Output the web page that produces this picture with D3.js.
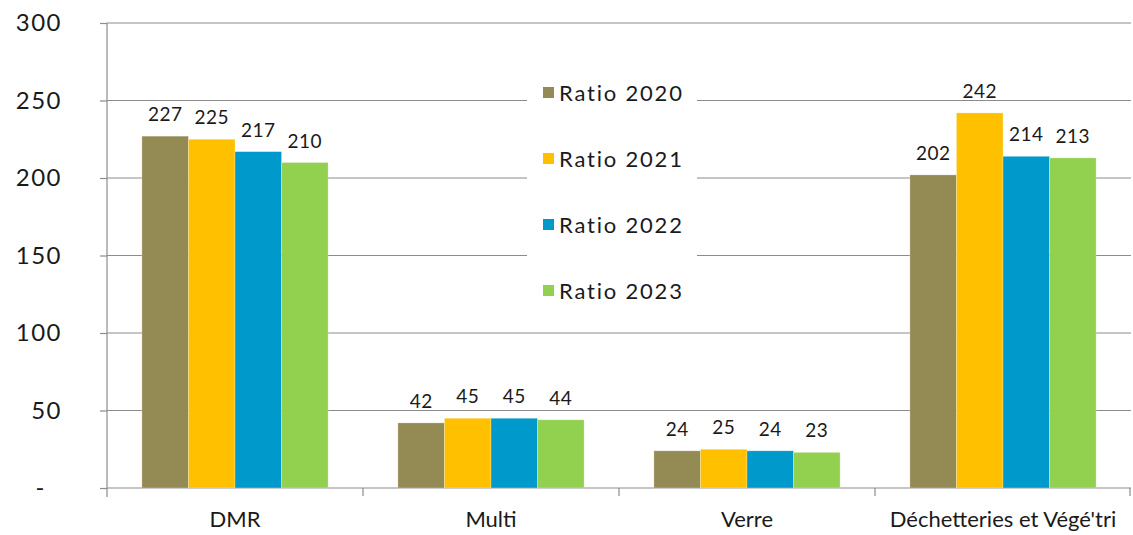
<!DOCTYPE html>
<html>
<head>
<meta charset="utf-8">
<script src="https://cdn.jsdelivr.net/npm/d3@7"></script>
<style>
  body { margin: 0; background: #fff; }
  svg { display: block; }
</style>
</head>
<body>
<div id="chart"></div>
<script>
// data
const categories = ['DMR', 'Multi', 'Verre', "Déchetteries et Végé'tri"];
const seriesNames = ['Ratio 2020', 'Ratio 2021', 'Ratio 2022', 'Ratio 2023'];
const ratio2020 = [227, 42, 24, 202];
const ratio2021 = [225, 45, 25, 242];
const ratio2022 = [217, 45, 24, 214];
const ratio2023 = [210, 44, 23, 213];
const yTicks = [0, 50, 100, 150, 200, 250, 300];
const colors = ['#948a54', '#ffc000', '#0099cc', '#92d050'];

const allSeries = [ratio2020, ratio2021, ratio2022, ratio2023];

const W = 1133, H = 535;
const margin = { top: 23, right: 2, bottom: 47, left: 107 };
const width = W - margin.left - margin.right;
const height = H - margin.top - margin.bottom;

const svg = d3.select('#chart')
  .append('svg')
  .attr('width', W)
  .attr('height', H)
  .append('g')
  .attr('transform', `translate(${margin.left},${margin.top})`);

// Scales
const x0 = d3.scaleBand()
  .domain(categories)
  .range([0, width])
  .padding(0);

const x1 = d3.scaleBand()
  .domain(seriesNames)
  .range([0, x0.bandwidth()])
  .paddingInner(0)
  .paddingOuter(0.75);

const y = d3.scaleLinear()
  .domain([0, 300])
  .range([height, 0]);

const textColor = '#1a1a1a';
const gridColor = '#8c8c8c';

// Gridlines
svg.append('g')
  .selectAll('line')
  .data(yTicks.filter(d => d > 0))
  .enter()
  .append('line')
  .attr('x1', 0)
  .attr('x2', width)
  .attr('y1', d => y(d))
  .attr('y2', d => y(d))
  .attr('stroke', gridColor)
  .attr('stroke-width', 1.2);

// Y axis
const yAxis = svg.append('g')
  .call(d3.axisLeft(y)
    .tickValues(yTicks)
    .tickSize(7)
    .tickPadding(38)
    .tickFormat(d => d === 0 ? '-' : d));
yAxis.select('.domain').attr('stroke', gridColor).attr('stroke-width', 1.2)
  .attr('d', `M0,${height + 9}V0`);
yAxis.selectAll('.tick line').attr('stroke', gridColor).attr('stroke-width', 1.2);
yAxis.selectAll('text')
  .attr('fill', textColor)
  .attr('dx', d => d === 0 ? -16 : 0)
  .style('font-family', 'Lato, sans-serif')
  .style('font-size', '24px')
  .style('letter-spacing', '1.5px');

// X axis: ticks on category boundaries
const xAxisG = svg.append('g')
  .attr('transform', `translate(0,${height})`);
xAxisG.append('line')
  .attr('x1', 0).attr('x2', width)
  .attr('stroke', gridColor).attr('stroke-width', 1.2);
xAxisG.selectAll('.bound')
  .data(categories.slice(1).concat(['__end']))
  .enter()
  .append('line')
  .attr('x1', d => d === '__end' ? width - 1 : x0(d))
  .attr('x2', d => d === '__end' ? width - 1 : x0(d))
  .attr('y1', 0).attr('y2', 8)
  .attr('stroke', gridColor).attr('stroke-width', 1.2);
xAxisG.selectAll('.cat')
  .data(categories)
  .enter()
  .append('text')
  .attr('x', d => x0(d) + x0.bandwidth() / 2)
  .attr('y', 39)
  .attr('text-anchor', 'middle')
  .attr('fill', textColor)
  .style('font-family', 'Lato, sans-serif')
  .style('font-size', '22px')
  .text(d => d);

// Bars
const groups = svg.selectAll('.grp')
  .data(categories)
  .enter()
  .append('g')
  .attr('transform', d => `translate(${x0(d)},0)`);

groups.selectAll('rect')
  .data((d, i) => seriesNames.map((s, j) => ({ s, j, v: allSeries[j][i] })))
  .enter()
  .append('rect')
  .attr('x', d => x1(d.s))
  .attr('y', d => y(d.v))
  .attr('width', x1.bandwidth())
  .attr('height', d => height - y(d.v))
  .attr('fill', d => colors[d.j])
  .attr('stroke', 'rgba(255,255,255,0.35)')
  .attr('stroke-width', 0.8);

// Value labels
groups.selectAll('.val')
  .data((d, i) => seriesNames.map((s, j) => ({ s, j, v: allSeries[j][i] })))
  .enter()
  .append('text')
  .attr('x', d => x1(d.s) + x1.bandwidth() / 2)
  .attr('y', d => y(d.v) - 15)
  .attr('text-anchor', 'middle')
  .attr('fill', textColor)
  .style('font-family', 'Lato, sans-serif')
  .style('font-size', '19px')
  .style('letter-spacing', '0.5px')
  .text(d => d.v);

// Legend
const legend = svg.append('g')
  .attr('transform', `translate(${527 - margin.left},${70 - margin.top})`);
legend.append('rect')
  .attr('width', 170)
  .attr('height', 248)
  .attr('fill', '#fff');
const item = legend.selectAll('.item')
  .data(seriesNames)
  .enter()
  .append('g')
  .attr('transform', (d, i) => `translate(16,${22.5 + i * 66})`);
item.append('rect')
  .attr('x', 0).attr('y', -5.5)
  .attr('width', 11).attr('height', 11)
  .attr('fill', (d, i) => colors[i]);
item.append('text')
  .attr('x', 16)
  .attr('y', 8)
  .attr('fill', textColor)
  .style('font-family', 'Lato, sans-serif')
  .style('font-size', '22px')
  .style('letter-spacing', '1.8px')
  .text(d => d);
</script>
</body>
</html>
